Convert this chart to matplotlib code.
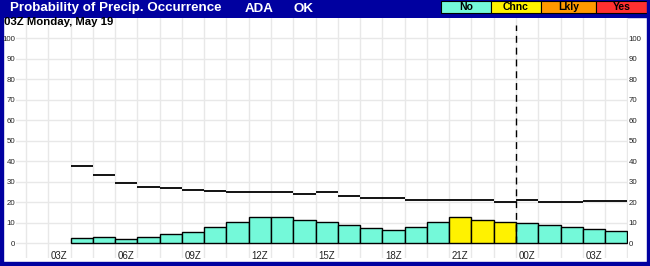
import numpy as np
import matplotlib
matplotlib.use('Agg')
import matplotlib.pyplot as plt
from matplotlib.patches import Rectangle

# %% Data
hour_labels = ['03Z', '06Z', '09Z', '12Z', '15Z', '18Z', '21Z', '00Z', '03Z']
pop = [2.4, 2.9, 1.9, 2.9, 4.4, 5.3, 8.2, 10.2, 12.6, 12.6, 11.6, 10.2, 9.0,
       7.7, 6.3, 8.2, 10.2, 12.6, 11.6, 10.6, 9.7, 8.7, 8.2, 6.8, 5.8]
climo = [37.9, 33.1, 29.5, 27.6, 27.1, 26.1, 25.6, 24.8, 24.8, 24.8, 23.9, 24.8, 23.2,
         22.3, 22.3, 21.3, 21.3, 21.3, 21.3, 20.3, 21.3, 20.3, 20.3, 20.8, 20.8]
category = ['No'] * 17 + ['Chnc'] * 3 + ['No'] * 5
legend_names = ['No', 'Chnc', 'Lkly', 'Yes']
cat_colors = {'No': '#74f9d9', 'Chnc': '#fff200', 'Lkly': '#ff9900', 'Yes': '#ff3030'}

# %% Figure
W, H = 650, 266
navy = '#0000a0'
plt.rcParams['font.family'] = ['Liberation Sans', 'DejaVu Sans']
fig = plt.figure(figsize=(W / 100, H / 100), dpi=100)


def fx(px): return px / W
def fy(py): return 1 - py / H


ax = fig.add_axes([fx(16), 7.7 / H, (628 - 16) / W, 240.5 / H])
ax.set_xlim(-0.45, 27.03)
ax.set_ylim(-7.3, 110)

x = np.arange(len(pop)) + 2
colors = [cat_colors[c] for c in category]
ax.bar(x, pop, width=1, align='edge', color=colors, edgecolor='black', lw=1, zorder=2)
ax.hlines(climo, x, x + 1, color='black', lw=1.3, zorder=3)
ax.vlines(22, 0, 106.5, color='black', lw=1, linestyles=(0, (5, 3.5)), zorder=3)

# grid
ax.set_xticks(np.arange(0, 28), minor=True)
ax.set_xticks([])
ax.grid(which='minor', axis='x', color='#e8e8e8', lw=1)
ax.set_yticks(range(0, 101, 10))
ax.grid(which='major', axis='y', color='#e8e8e8', lw=1)
ax.set_axisbelow(True)
ax.tick_params(axis='y', length=0, labelsize=5.7, pad=0.5, labelright=True, colors='#222222')
ax.tick_params(axis='x', which='both', length=0)
for s in ax.spines.values():
    s.set_visible(False)

for i, lab in enumerate(hour_labels):
    ax.text(3 * i + 1.5, -6.2, lab, ha='center', va='center', fontsize=7, color='#222222')

# %% Title bar, legend, border
fig.add_artist(Rectangle((0, fy(16.5)), 1, 16.5 / H, transform=fig.transFigure,
                         color=navy, zorder=0))
fig.text(fx(10), fy(8.5), 'Probability of Precip. Occurrence', color='white',
         fontsize=9.6, fontweight='bold', va='center')
fig.text(fx(245), fy(8.5), 'ADA', color='white', fontsize=9.6, fontweight='bold', va='center')
fig.text(fx(293), fy(8.5), 'OK', color='white', fontsize=9.6, fontweight='bold', va='center')

edges = [441, 491, 541, 596, 648]
for i, name in enumerate(legend_names):
    fig.add_artist(Rectangle((fx(edges[i]), fy(13)), (edges[i + 1] - edges[i]) / W, 12 / H,
                             transform=fig.transFigure, facecolor=cat_colors[name],
                             edgecolor='black', lw=0.8))
    fig.text(fx((edges[i] + edges[i + 1]) / 2), fy(7), name, ha='center', va='center',
             fontsize=7.5, fontweight='bold', color='black')

fig.text(fx(4), fy(22), '03Z Monday, May 19', fontsize=8.2, fontweight='bold', va='center')

fig.add_artist(Rectangle((0, 0), fx(2.5), 1, transform=fig.transFigure, color=navy, zorder=-1))
fig.add_artist(Rectangle((fx(646.5), 0), fx(3.5), 1, transform=fig.transFigure, color=navy))
fig.add_artist(Rectangle((0, 0), 1, 4 / H, transform=fig.transFigure, color=navy))

fig.savefig('out.png', dpi=100)
